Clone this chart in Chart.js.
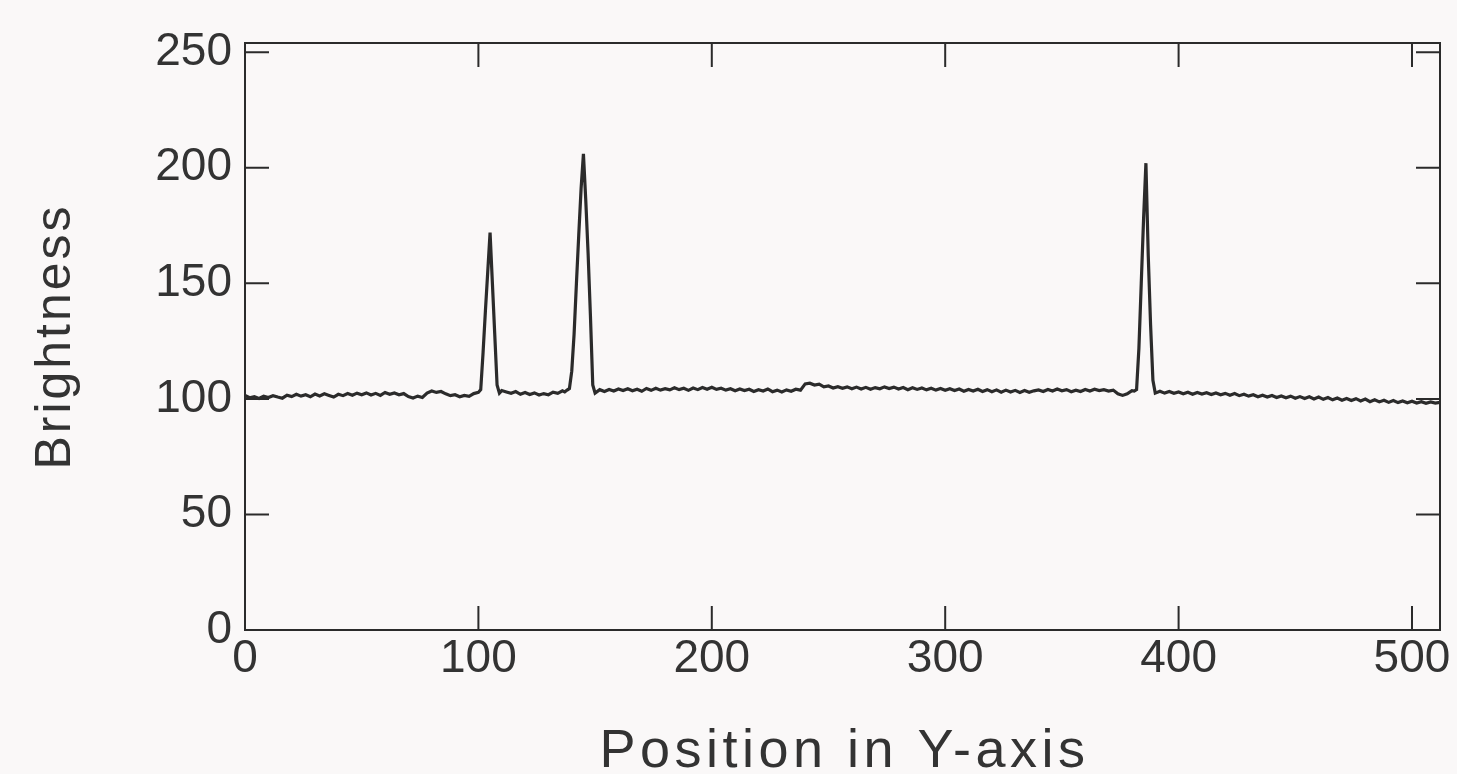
<!DOCTYPE html>
<html>
<head>
<meta charset="utf-8">
<script src="https://cdn.jsdelivr.net/npm/chart.js@4.4.1/dist/chart.umd.min.js"></script>
<style>
  html, body { margin: 0; padding: 0; background: #faf8f8; }
  #wrap { width: 1457px; height: 774px; position: relative; }
</style>
</head>
<body>
<div id="wrap"><canvas id="profile"></canvas></div>
<script>
// Brightness profile along the Y-axis
const position = [
  0, 2, 4, 6, 8, 10, 12, 14, 16, 18,
  20, 22, 24, 26, 28, 30, 32, 34, 36, 38,
  40, 42, 44, 46, 48, 50, 52, 54, 56, 58,
  60, 62, 64, 66, 68, 70, 72, 74, 76, 78,
  80, 82, 84, 86, 88, 90, 92, 94, 96, 98,
  100, 101, 102, 103, 104, 105, 106, 107, 108, 109, 110,
  112, 114, 116, 118, 120, 122, 124, 126, 128, 130, 132, 134, 136,
  137, 138, 139, 140, 141, 142, 143, 144, 145, 146, 147, 148, 149, 150,
  152, 154, 156, 158, 160, 162, 164, 166, 168, 170,
  172, 174, 176, 178, 180, 182, 184, 186, 188, 190,
  192, 194, 196, 198, 200, 202, 204, 206, 208, 210,
  212, 214, 216, 218, 220, 222, 224, 226, 228, 230,
  232, 234, 236, 238, 240, 242, 244, 246, 248, 250,
  252, 254, 256, 258, 260, 262, 264, 266, 268, 270,
  272, 274, 276, 278, 280, 282, 284, 286, 288, 290,
  292, 294, 296, 298, 300, 302, 304, 306, 308, 310,
  312, 314, 316, 318, 320, 322, 324, 326, 328, 330,
  332, 334, 336, 338, 340, 342, 344, 346, 348, 350,
  352, 354, 356, 358, 360, 362, 364, 366, 368, 370,
  372, 374, 376, 378, 380,
  381, 382, 383, 384, 385, 386, 387, 388, 389, 390,
  392, 394, 396, 398, 400, 402, 404, 406, 408, 410,
  412, 414, 416, 418, 420, 422, 424, 426, 428, 430,
  432, 434, 436, 438, 440, 442, 444, 446, 448, 450,
  452, 454, 456, 458, 460, 462, 464, 466, 468, 470,
  472, 474, 476, 478, 480, 482, 484, 486, 488, 490,
  492, 494, 496, 498, 500, 502, 504, 506, 508, 510,
  512
];

const brightness = [
  101.5, 100.5, 101, 100.2, 101.2, 100.6, 101.4, 100.8, 100.3, 101.6,
  101, 102, 101.2, 101.8, 100.9, 102.1, 101.3, 102.2, 101.5, 100.8,
  102, 101.4, 102.3, 101.6, 102.5, 101.8, 102.6, 101.7, 102.4, 101.5,
  102.8, 102, 102.6, 101.8, 102.3, 101, 100.4, 101.2, 100.6, 102.5,
  103.4, 102.8, 103.2, 102.2, 101.4, 101.8, 100.9, 101.5, 101.1, 102.3,
  102.8, 104, 120, 138, 155, 172, 150, 128, 106, 102.5, 103.6,
  103, 102.4, 103.2, 102, 102.8, 101.9, 102.6, 101.7, 102.3, 101.8, 102.9, 102.4, 103.5,
  103, 103.8, 104.5, 112, 128, 150, 171, 191, 206, 186, 163, 136, 106, 102.5,
  104, 103.2, 104.1, 103.4, 104.3, 103.6, 104.4, 103.5, 104.2, 103.3,
  104.5, 103.7, 104.6, 103.8, 104.4, 103.9, 104.8, 104, 104.6, 103.7,
  104.7, 104, 104.9, 104.2, 105, 104.1, 104.6, 103.8, 104.4, 103.5,
  104.3, 103.6, 104.2, 103.2, 104, 103.4, 104.3, 103.1, 103.8, 103,
  103.9, 103.3, 104.2, 103.8, 106.5, 106.8, 106, 106.4, 105.2, 105.6,
  104.7, 105.3, 104.6, 105.2, 104.4, 105.1, 104.3, 105, 104.2, 104.9,
  104.4, 105.2, 104.5, 105.1, 104.3, 104.9, 104, 104.8, 104.1, 104.7,
  103.9, 104.6, 103.8, 104.5, 103.7, 104.4, 103.6, 104.3, 103.3, 104.1,
  103.4, 104.2, 103.2, 104, 103.1, 103.9, 102.9, 103.8, 103, 103.7,
  102.8, 103.6, 102.9, 103.5, 103.9, 103.2, 104.1, 103.4, 104.3, 103.5,
  104, 103.1, 103.8, 103.2, 104.1, 103.4, 104.2, 103.6, 104, 103.4,
  103.8, 102.2, 101.5, 102.2, 103.6,
  103.4, 104, 122, 150, 178, 202, 162, 132, 108, 102.5,
  103.3, 102.5, 103.2, 102.4, 103, 102.2, 102.9, 102, 102.8, 102.1,
  102.7, 101.9, 102.6, 101.8, 102.4, 101.6, 102.3, 101.4, 102, 101.2,
  101.8, 100.9, 101.6, 100.8, 101.5, 100.6, 101.3, 100.5, 101.2, 100.3,
  101, 100.2, 100.9, 100, 100.8, 99.8, 100.6, 99.6, 100.4, 99.4,
  100.2, 99.3, 100.1, 99.1, 99.9, 98.8, 99.6, 98.7, 99.4, 98.5,
  99.3, 98.4, 99.1, 98.3, 99, 98.2, 98.8, 98.1, 98.7, 98.2,
  98.5
];

const xTicks = [0, 100, 200, 300, 400, 500];
const yTicks = [0, 50, 100, 150, 200, 250];
const xTitle = 'Position in Y-axis';
const yTitle = 'Brightness';

const INK = '#2b2b2b';
const TEXT = '#333';
const FONT = '"Liberation Sans", Arial, Helvetica, sans-serif';
const TICK_LEN = 24;

// closed frame with inward ticks on all four sides
const frameTicks = {
  id: 'frameTicks',
  afterDatasetsDraw(chart) {
    const { ctx, chartArea: a, scales: { x, y } } = chart;
    ctx.save();
    ctx.strokeStyle = INK;
    ctx.lineWidth = 2;
    ctx.strokeRect(a.left, a.top, a.right - a.left, a.bottom - a.top);
    ctx.beginPath();
    xTicks.forEach(v => {
      if (v === 0) return;
      const px = x.getPixelForValue(v);
      ctx.moveTo(px, a.bottom);
      ctx.lineTo(px, a.bottom - TICK_LEN);
      ctx.moveTo(px, a.top);
      ctx.lineTo(px, a.top + TICK_LEN);
    });
    yTicks.forEach(v => {
      if (v === 0) return;
      const py = y.getPixelForValue(v);
      ctx.moveTo(a.left, py);
      ctx.lineTo(a.left + TICK_LEN, py);
      ctx.moveTo(a.right, py);
      ctx.lineTo(a.right - TICK_LEN, py);
    });
    ctx.stroke();
    ctx.restore();
  }
};

// axis titles: the scan has wide lettering, so draw them with a little letter spacing
const spacedTitles = {
  id: 'spacedTitles',
  afterDraw(chart) {
    const { ctx, chartArea: a } = chart;
    ctx.save();
    ctx.fillStyle = TEXT;
    ctx.textAlign = 'center';
    ctx.textBaseline = 'middle';

    ctx.font = `54px ${FONT}`;
    ctx.letterSpacing = '4.5px';
    ctx.fillText(xTitle, (a.left + a.right) / 2 + 2, a.bottom + 122);

    ctx.font = `50px ${FONT}`;
    ctx.letterSpacing = '3px';
    ctx.translate(56, (a.top + a.bottom) / 2);
    ctx.rotate(-Math.PI / 2);
    ctx.fillText(yTitle, 0, 0);
    ctx.restore();
  }
};

const points = position.map((p, i) => ({ x: p, y: brightness[i] }));

new Chart(document.getElementById('profile'), {
  type: 'line',
  data: {
    datasets: [{
      data: points,
      borderColor: INK,
      borderWidth: 3.2,
      pointRadius: 0,
      tension: 0,
      fill: false
    }]
  },
  options: {
    responsive: true,
    maintainAspectRatio: false,
    animation: false,
    layout: { padding: { top: 43, right: 17, left: 0, bottom: 0 } },
    plugins: { legend: { display: false }, tooltip: { enabled: false } },
    scales: {
      x: {
        type: 'linear',
        min: 0,
        max: 512,
        afterFit: s => { s.height = 144; },
        afterBuildTicks: s => { s.ticks = xTicks.map(v => ({ value: v })); },
        grid: { display: false },
        border: { display: false },
        ticks: { color: TEXT, font: { family: FONT, size: 46, lineHeight: 1 }, padding: -2, maxRotation: 0, autoSkip: false }
      },
      y: {
        min: 0,
        max: 254,
        afterFit: s => { s.width = 245; },
        afterBuildTicks: s => { s.ticks = yTicks.map(v => ({ value: v })); },
        grid: { display: false },
        border: { display: false },
        ticks: { color: TEXT, font: { family: FONT, size: 46 }, padding: 5 }
      }
    }
  },
  plugins: [frameTicks, spacedTitles]
});
</script>
</body>
</html>
